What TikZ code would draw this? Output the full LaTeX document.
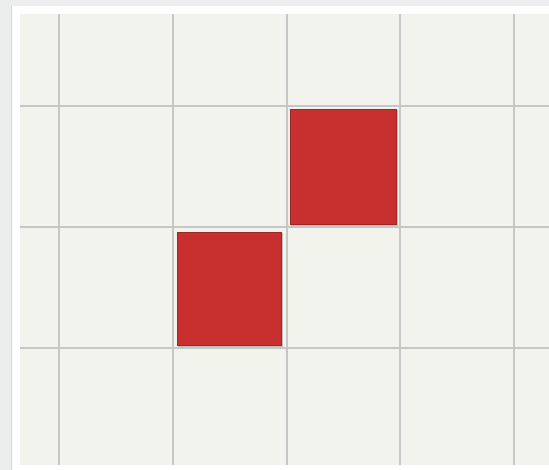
\documentclass[tikz,border=0pt]{standalone}
\usepackage{tikz}
\usepackage{xcolor}
\definecolor{panel}{HTML}{F3F3EE}
\definecolor{gridgray}{HTML}{C6C6C6}
\definecolor{tile}{HTML}{C8302F}
\definecolor{outer}{HTML}{ECEDED}

\begin{document}
\begin{tikzpicture}[x=1pt,y=-1pt,
  gline/.style={gridgray,line width=1.6pt},
  tilebox/.style={fill=tile,draw=tile!80!black,line width=0.4pt}]
\useasboundingbox(0,0)rectangle(549,470);
\fill[outer](0,0)rectangle(549,470);
\fill[white](11,6)rectangle(549,470);
\draw[gray!30,line width=1.2pt](11.5,6)--(11.5,470);
\fill[panel](20,14)rectangle(549,465);
% grid
\foreach \x in {59,173,287,400,514}
  \draw[gline](\x,14)--(\x,465);
\foreach \y in {106,227,348}
  \draw[gline](20,\y)--(549,\y);
% tiles with a soft shadow
\foreach \a/\b/\c/\d in {290/109/396/224,177/232/281/345}{
  \fill[black!25](\a+1,\b+1.5)rectangle(\c+2,\d+2.5);
  \fill[tilebox](\a,\b)rectangle(\c,\d);
}
\end{tikzpicture}
\end{document}
